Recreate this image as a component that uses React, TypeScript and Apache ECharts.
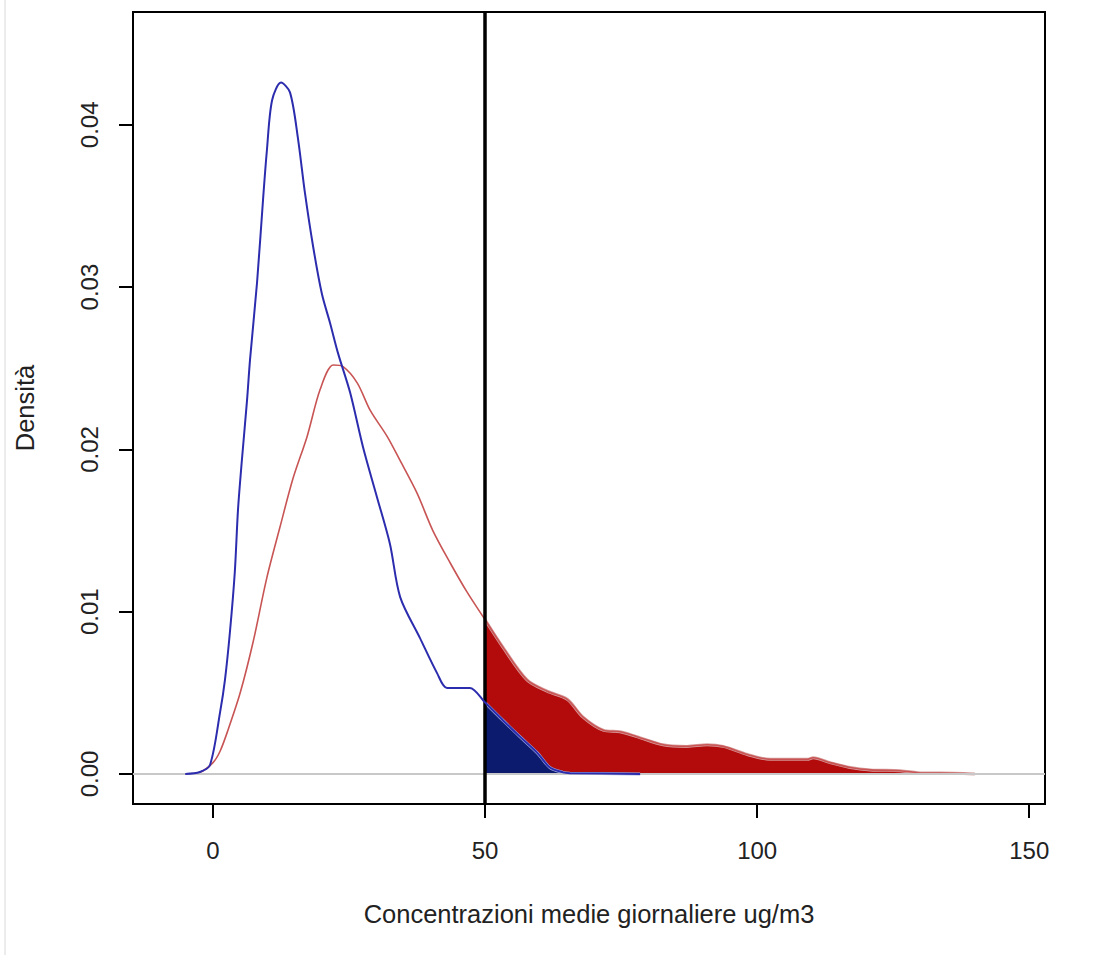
import React, { useEffect, useRef } from "react";
import * as echarts from "echarts";

// Blue density curve (x, density)
const blueX = [-5.1, -2.4, -0.55, 1.3, 2.2, 3.1, 4.0, 4.6, 5.3, 6.25, 6.8, 8.1, 9.2, 9.9, 10.85, 12.5, 14.15, 15.6, 16.9, 18.4, 20.0, 21.5, 23.0, 25.2, 27.6, 30.1, 32.5, 34.4, 38.0, 41.2, 43.0, 47.2, 50, 53.3, 56.4, 59.6, 61.9, 64.3, 65.6, 78.5];
const blueY = [0, 0.00012, 0.00055, 0.0038, 0.0058, 0.0087, 0.0124, 0.0163, 0.0193, 0.023, 0.0255, 0.0303, 0.0354, 0.0384, 0.0415, 0.0426, 0.042, 0.0392, 0.0358, 0.0325, 0.0296, 0.0278, 0.0259, 0.0235, 0.0201, 0.0171, 0.0142, 0.0109, 0.0084, 0.0062, 0.0053, 0.0053, 0.0044, 0.0033, 0.0023, 0.0013, 0.0004, 0.0001, 0.00005, 0];

// Red density curve (x, density)
const redX = [-5.1, -2.4, 0, 1.3, 2.75, 5.0, 7.35, 9.9, 12.3, 14.7, 17.3, 19.7, 22.1, 23.9, 26.5, 28.9, 32.0, 34.4, 37.5, 40.4, 43.6, 46.7, 50, 53.3, 57.7, 61.4, 65.1, 68.0, 71.7, 74.8, 77.9, 82.7, 87.1, 90.8, 93.75, 98.2, 102.4, 109.2, 110.3, 113.4, 117.1, 120.8, 126.3, 130.5, 133.6, 140];
const redY = [0, 0.0001, 0.0007, 0.0014, 0.0027, 0.005, 0.0081, 0.0121, 0.0152, 0.0182, 0.0208, 0.0237, 0.0252, 0.0251, 0.0241, 0.0224, 0.0208, 0.0193, 0.0173, 0.015, 0.013, 0.0112, 0.0095, 0.0078, 0.0058, 0.0051, 0.0046, 0.0035, 0.0027, 0.0026, 0.0023, 0.0018, 0.0017, 0.0018, 0.0017, 0.0012, 0.0009, 0.0009, 0.001, 0.0007, 0.0004, 0.00025, 0.0002, 0.00006, 0.00006, 0];

const threshold = 50;
const xTicks = [0, 50, 100, 150];
const yTicks = [0, 0.01, 0.02, 0.03, 0.04];
const xTitle = "Concentrazioni medie giornaliere ug/m3";
const yTitle = "Densità";

const FONT = "Liberation Sans, Arial, sans-serif";
const SMOOTH = 0.3;

export default function App() {
  const ref = useRef<HTMLDivElement>(null);
  useEffect(() => {
    const chart = echarts.init(ref.current!, null, { renderer: "svg" });
    const blueData = blueX.map((x, i) => [x, blueY[i]]);
    const redData = redX.map((x, i) => [x, redY[i]]);
    const blueFill = blueData.filter((p) => p[0] >= threshold);
    const redFill = redData.filter((p) => p[0] >= threshold);

    chart.setOption({
      animation: false,
      backgroundColor: "#fff",
      grid: {
        left: 133,
        top: 12,
        width: 912,
        height: 792,
        show: true,
        borderColor: "#000",
        borderWidth: 2,
        backgroundColor: "transparent",
      },
      xAxis: {
        type: "value",
        min: -14.7,
        max: 152.9,
        axisLine: { show: false, onZero: false },
        splitLine: { show: false },
        axisTick: {
          show: true,
          length: 14,
          lineStyle: { color: "#000", width: 2 },
          customValues: xTicks,
        },
        axisLabel: {
          customValues: xTicks,
          fontSize: 24,
          fontFamily: FONT,
          color: "#222",
          margin: 34,
        },
        name: xTitle,
        nameLocation: "middle",
        nameGap: 97,
        nameTextStyle: { fontSize: 25.5, fontFamily: FONT, color: "#222" },
      },
      yAxis: {
        type: "value",
        min: -0.00185,
        max: 0.04695,
        axisLine: { show: false, onZero: false },
        splitLine: { show: false },
        axisTick: {
          show: true,
          length: 14,
          lineStyle: { color: "#000", width: 2 },
          customValues: yTicks,
        },
        axisLabel: {
          customValues: yTicks,
          fontSize: 24,
          fontFamily: FONT,
          color: "#222",
          rotate: 90,
          margin: 32,
          formatter: (v: number) => v.toFixed(2),
        },
        name: yTitle,
        nameLocation: "middle",
        nameRotate: 90,
        nameGap: 95,
        nameTextStyle: { fontSize: 25.5, fontFamily: FONT, color: "#222" },
      },
      graphic: [
        {
          type: "line",
          shape: { x1: 5, y1: 0, x2: 5, y2: 955 },
          style: { stroke: "#d8d8d8", lineWidth: 1 },
          silent: true,
        },
      ],
      series: [
        {
          type: "line",
          data: [[0, 0]],
          symbol: "none",
          lineStyle: { width: 0 },
          z: 1,
          silent: true,
          markLine: {
            silent: true,
            symbol: ["none", "none"],
            label: { show: false },
            lineStyle: { color: "#c8c8c8", width: 2, type: "solid" },
            data: [{ yAxis: 0 }],
          },
        },
        {
          type: "line",
          data: redFill,
          symbol: "none",
          smooth: SMOOTH,
          lineStyle: { color: "#d8a0a0", width: 3 },
          areaStyle: { color: "#b30b0b", opacity: 1 },
          z: 2,
        },
        {
          type: "line",
          data: blueFill,
          symbol: "none",
          smooth: SMOOTH,
          lineStyle: { color: "#a0aee0", width: 3 },
          areaStyle: { color: "#0d1b6e", opacity: 1 },
          z: 3,
        },
        {
          type: "line",
          data: redData,
          symbol: "none",
          smooth: SMOOTH,
          lineStyle: { color: "#c85454", width: 1.6 },
          z: 4,
        },
        {
          type: "line",
          data: blueData,
          symbol: "none",
          smooth: SMOOTH,
          lineStyle: { color: "#2c2cae", width: 2 },
          z: 5,
        },
        {
          type: "line",
          data: [[threshold, 0]],
          symbol: "none",
          lineStyle: { width: 0 },
          z: 10,
          silent: true,
          markLine: {
            silent: true,
            symbol: ["none", "none"],
            label: { show: false },
            lineStyle: { color: "#000", width: 3.5, type: "solid" },
            data: [{ xAxis: threshold }],
          },
        },
      ],
    });
    return () => chart.dispose();
  }, []);
  return (
    <div
      ref={ref}
      style={{ position: "fixed", left: 0, top: 0, width: 1099, height: 955, background: "#fff" }}
    />
  );
}
